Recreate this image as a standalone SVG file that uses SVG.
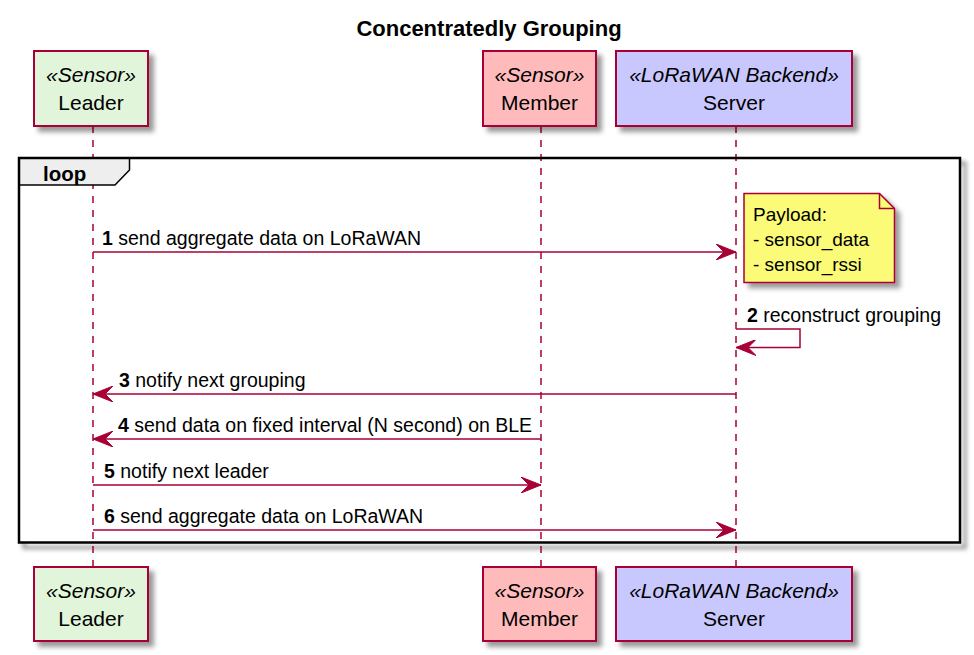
<svg xmlns="http://www.w3.org/2000/svg" width="974" height="655" viewBox="0 0 974 655">
<defs>
<filter id="sh" x="-20%" y="-20%" width="150%" height="150%">
<feGaussianBlur in="SourceAlpha" stdDeviation="2.5" result="b"/>
<feColorMatrix in="b" type="matrix" values="0 0 0 0 0  0 0 0 0 0  0 0 0 0 0  0 0 0 .4 0" result="c"/>
<feOffset in="c" dx="5" dy="5" result="o"/>
<feMerge><feMergeNode in="o"/><feMergeNode in="SourceGraphic"/></feMerge>
</filter>
<filter id="blur" x="-5%" y="-5%" width="110%" height="110%">
<feGaussianBlur stdDeviation="2"/>
</filter>
<marker id="ah" viewBox="0 0 20 16" refX="20" refY="8" markerWidth="20" markerHeight="16" markerUnits="userSpaceOnUse" orient="auto">
<polygon points="0,0 20,8 0,16 8,8" fill="#A80036" stroke="#A80036" stroke-width="1"/>
</marker>
</defs>
<style>
text{font-family:"Liberation Sans",Arial,sans-serif;fill:#000}
.title{font-size:22px;font-weight:bold}
.st{font-size:21px;font-style:italic;text-anchor:middle}
.nm{font-size:21px;text-anchor:middle}
.msg{font-size:19.5px}
.msg tspan.n{font-weight:bold}
.note{font-size:19px}
.box{stroke:#A80036;stroke-width:2}
.life{stroke:#A80036;stroke-width:1.5;stroke-dasharray:7,7;fill:none}
.arr{stroke:#A80036;stroke-width:1.5;fill:none;marker-end:url(#ah)}
</style>
<rect width="974" height="655" fill="#FFFFFF"/>
<text class="title" x="489" y="36" text-anchor="middle">Concentratedly Grouping</text>

<g id="frame-shadow">
<rect x="24" y="163" width="941" height="384.5" fill="none" stroke="#000" stroke-opacity="0.4" stroke-width="3.5" filter="url(#blur)"/>
<rect x="19" y="158" width="941" height="384.5" fill="#FFFFFF"/>
</g>

<g id="lifelines">
<line class="life" x1="93" y1="126" x2="93" y2="567"/>
<line class="life" x1="541" y1="126" x2="541" y2="567"/>
<line class="life" x1="736" y1="126" x2="736" y2="567"/>
</g>

<g id="loop">
<path d="M19,158 L129.5,158 L129.5,170 L115,185 L19,185 Z" fill="#EEEEEE" stroke="#000" stroke-width="1.5"/>
<text x="43" y="181" style="font-size:20.5px;font-weight:bold">loop</text>
<rect x="19" y="158" width="941" height="384.5" fill="none" stroke="#000" stroke-width="2.5"/>
</g>

<g id="connectors">
<line class="arr" x1="93" y1="252" x2="736" y2="252"/>
<text class="msg" x="102" y="245"><tspan class="n">1</tspan> send aggregate data on LoRaWAN</text>
<path class="arr" d="M736,329 L800,329 L800,347.5 L736,347.5"/>
<text class="msg" x="747" y="322"><tspan class="n">2</tspan> reconstruct grouping</text>
<line class="arr" x1="736" y1="394" x2="93" y2="394"/>
<text class="msg" x="119" y="387"><tspan class="n">3</tspan> notify next grouping</text>
<line class="arr" x1="541" y1="439" x2="93" y2="439"/>
<text class="msg" x="118" y="432"><tspan class="n">4</tspan> send data on fixed interval (N second) on BLE</text>
<line class="arr" x1="93" y1="485" x2="541" y2="485"/>
<text class="msg" x="104" y="478"><tspan class="n">5</tspan> notify next leader</text>
<line class="arr" x1="93" y1="530" x2="736" y2="530"/>
<text class="msg" x="104" y="523"><tspan class="n">6</tspan> send aggregate data on LoRaWAN</text>
</g>

<g id="note">
<path d="M744,193.5 L879.5,193.5 L894.5,208.5 L894.5,282.5 L744,282.5 Z" fill="#FBFB77" stroke="#A80036" stroke-width="1.5" filter="url(#sh)"/>
<path d="M879.5,193.5 L879.5,208.5 L894.5,208.5" fill="none" stroke="#A80036" stroke-width="1.5"/>
<text class="note" x="753" y="221">Payload:</text>
<text class="note" x="753" y="246">- sensor_data</text>
<text class="note" x="753" y="271">- sensor_rssi</text>
</g>

<g id="leader-top">
<rect class="box" x="34" y="51" width="114" height="75" fill="#E1F5DA" filter="url(#sh)"/>
<text class="st" x="91" y="82">«Sensor»</text>
<text class="nm" x="91" y="110">Leader</text>
</g>
<g id="member-top">
<rect class="box" x="483" y="51" width="113" height="75" fill="#FFBBBB" filter="url(#sh)"/>
<text class="st" x="539.5" y="82">«Sensor»</text>
<text class="nm" x="539.5" y="110">Member</text>
</g>
<g id="server-top">
<rect class="box" x="616" y="51" width="236" height="75" fill="#C8C8FF" filter="url(#sh)"/>
<text class="st" x="734" y="82">«LoRaWAN Backend»</text>
<text class="nm" x="734" y="110">Server</text>
</g>
<g id="leader-bottom">
<rect class="box" x="34" y="567" width="114" height="74" fill="#E1F5DA" filter="url(#sh)"/>
<text class="st" x="91" y="598">«Sensor»</text>
<text class="nm" x="91" y="626">Leader</text>
</g>
<g id="member-bottom">
<rect class="box" x="483" y="567" width="113" height="74" fill="#FFBBBB" filter="url(#sh)"/>
<text class="st" x="539.5" y="598">«Sensor»</text>
<text class="nm" x="539.5" y="626">Member</text>
</g>
<g id="server-bottom">
<rect class="box" x="616" y="567" width="236" height="74" fill="#C8C8FF" filter="url(#sh)"/>
<text class="st" x="734" y="598">«LoRaWAN Backend»</text>
<text class="nm" x="734" y="626">Server</text>
</g>
</svg>
